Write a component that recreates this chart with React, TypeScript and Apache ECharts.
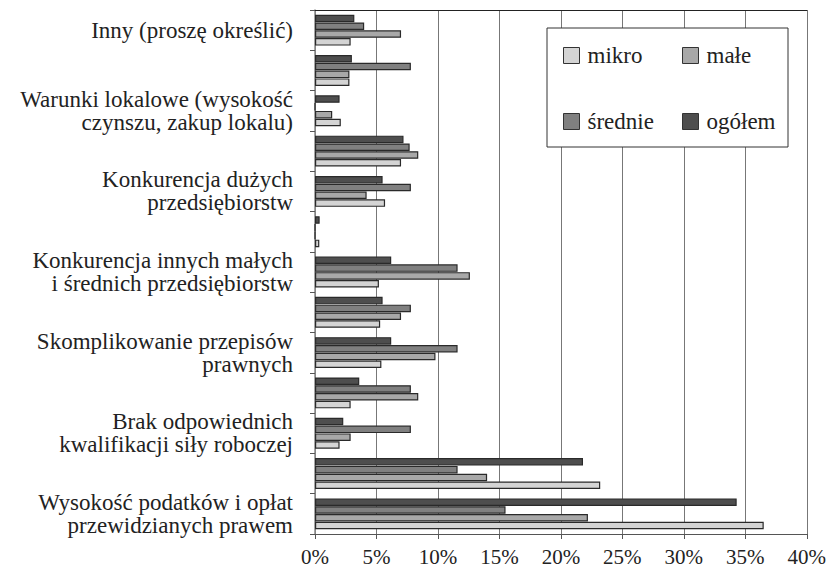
import React, { useEffect, useRef } from "react";
import * as echarts from "echarts";

// Categories from bottom (index 0) to top (index 12); every other one is unlabelled in the source
const categories = [
  "Wysokość podatków i opłat\nprzewidzianych prawem",
  "",
  "Brak odpowiednich\nkwalifikacji siły roboczej",
  "",
  "Skomplikowanie przepisów\nprawnych",
  "",
  "Konkurencja innych małych\ni średnich przedsiębiorstw",
  "",
  "Konkurencja dużych\nprzedsiębiorstw",
  "",
  "Warunki lokalowe (wysokość\nczynszu, zakup lokalu)",
  "",
  "Inny (proszę określić)",
];

const mikro = [36.5, 23.2, 2.0, 2.9, 5.4, 5.3, 5.2, 0.35, 5.7, 7.0, 2.1, 2.8, 2.9];
const male = [22.2, 14.0, 2.9, 8.4, 9.8, 7.0, 12.6, 0, 4.2, 8.4, 1.4, 2.8, 7.0];
const srednie = [15.5, 11.6, 7.8, 7.8, 11.6, 7.8, 11.6, 0, 7.8, 7.7, 0, 7.8, 4.0];
const ogolem = [34.3, 21.8, 2.3, 3.6, 6.2, 5.5, 6.2, 0.38, 5.5, 7.2, 2.0, 3.0, 3.2];

const xTicks = [0, 5, 10, 15, 20, 25, 30, 35, 40];

const colors = {
  mikro: "#d4d4d4",
  male: "#a8a8a8",
  srednie: "#808080",
  ogolem: "#4e4e4e",
};

const FONT = "'Liberation Serif', 'DejaVu Serif', serif";

export default function App() {
  const ref = useRef<HTMLDivElement>(null);
  useEffect(() => {
    document.body.style.margin = "0";
    if (!ref.current) return;
    const chart = echarts.init(ref.current, undefined, { renderer: "svg" });
    const barBase = {
      type: "bar" as const,
      barWidth: 7.5,
      barGap: "4%",
    };
    const mkSeries = (name: string, data: number[], color: string) => ({
      ...barBase,
      name,
      data,
      itemStyle: { color, borderColor: "#2a2a2a", borderWidth: 1.2 },
    });
    const legendCommon = {
      orient: "horizontal" as const,
      padding: 0,
      itemWidth: 16,
      itemHeight: 16,
      icon: "rect",
      z: 10,
      textStyle: { fontFamily: FONT, fontSize: 23, color: "#222", padding: [0, 0, 0, 3] },
      itemStyle: { borderColor: "#333", borderWidth: 1 },
    };
    chart.setOption({
      animation: false,
      backgroundColor: "#fff",
      grid: { left: 315, right: 20, top: 10, bottom: 35, containLabel: false },
      xAxis: [
        {
          type: "value",
          min: xTicks[0],
          max: xTicks[xTicks.length - 1],
          interval: 5,
          axisLabel: {
            formatter: "{value}%",
            fontFamily: FONT,
            fontSize: 21,
            color: "#222",
            margin: 12,
          },
          axisLine: { show: true, lineStyle: { color: "#555", width: 1 } },
          axisTick: { show: true, length: 5, lineStyle: { color: "#555" } },
          splitLine: { show: true, lineStyle: { color: "#777", width: 1 } },
        },
        {
          type: "value",
          position: "top",
          min: 0,
          max: 40,
          axisLabel: { show: false },
          axisTick: { show: false },
          splitLine: { show: false },
          axisLine: { show: true, lineStyle: { color: "#222", width: 1 } },
        },
      ],
      yAxis: {
        type: "category",
        data: categories,
        axisLabel: {
          interval: 1,
          fontFamily: FONT,
          fontSize: 23,
          lineHeight: 23,
          color: "#222",
          align: "right",
          margin: 22,
        },
        axisTick: { show: true, interval: 0, length: 5, lineStyle: { color: "#555" } },
        axisLine: { show: true, lineStyle: { color: "#888", width: 1.5 } },
      },
      legend: [
        { ...legendCommon, data: ["mikro"], left: 563, top: 44 },
        { ...legendCommon, data: ["małe"], left: 682, top: 44 },
        { ...legendCommon, data: ["średnie"], left: 563, top: 110 },
        { ...legendCommon, data: ["ogółem"], left: 682, top: 110 },
      ],
      graphic: [
        {
          type: "rect",
          z: 5,
          shape: { x: 547, y: 28, width: 241, height: 119 },
          style: { fill: "#fff", stroke: "#333", lineWidth: 1 },
        },
      ],
      series: [
        mkSeries("ogółem", ogolem, colors.ogolem),
        mkSeries("średnie", srednie, colors.srednie),
        mkSeries("małe", male, colors.male),
        mkSeries("mikro", mikro, colors.mikro),
      ],
    });
    return () => chart.dispose();
  }, []);
  return <div ref={ref} style={{ width: 829, height: 569 }} />;
}
